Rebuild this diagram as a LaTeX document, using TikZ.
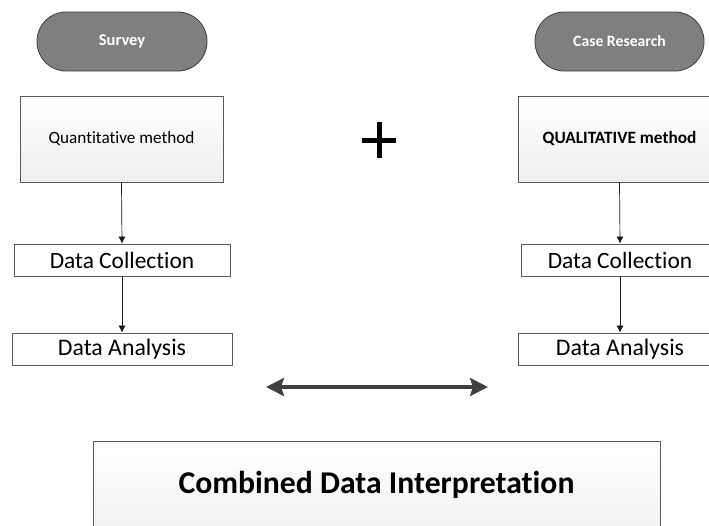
\documentclass[tikz,border=0pt]{standalone}
\usepackage{fontspec}
\setmainfont[Ligatures=NoCommon]{Carlito}
\usetikzlibrary{arrows.meta}
\definecolor{pillfill}{HTML}{7F7F7F}
\definecolor{pillborder}{HTML}{404040}
\definecolor{boxborder}{HTML}{595959}
\definecolor{arrowdark}{HTML}{404040}
\tikzset{
  pill/.style={draw=pillborder, line width=0.8pt, fill=pillfill, rounded corners=29pt,
    minimum height=59pt, inner sep=0pt, text=white, font=\fontsize{15.7}{17}\selectfont\bfseries},
  methodbox/.style={draw=boxborder, line width=0.8pt, top color=white, bottom color=gray!13,
    minimum height=86pt, inner sep=0pt, font=\fontsize{17.2}{19}\selectfont},
  databox/.style={draw=boxborder, line width=0.8pt, fill=white, minimum height=32pt,
    inner sep=0pt, font=\fontsize{23.4}{25}\selectfont},
  flowarrow/.style={draw=black!90, line width=0.7pt, -{Latex[length=7pt,width=7pt]}},
  bigarrow/.style={draw=arrowdark, line width=3.5pt,
    {Stealth[length=18pt,width=18pt,inset=3pt]}-{Stealth[length=18pt,width=18pt,inset=3pt]}},
  combbox/.style={draw=boxborder, line width=1pt, top color=white, bottom color=gray!10,
    inner sep=0pt, font=\fontsize{31.7}{34}\selectfont\bfseries}
}
\begin{document}
\begin{tikzpicture}[x=1pt,y=-1pt]
\useasboundingbox (0,0) rectangle (709,525);
% left column
\node[pill, minimum width=170pt, font=\fontsize{16.5}{18}\selectfont\bfseries] (survey) at (122,41.5) {Survey};
\node[methodbox, minimum width=203pt] (quant) at (121.5,139) {Quantitative method};
\node[databox, minimum width=216pt] (dcl) at (122,260) {Data Collection};
\node[databox, minimum width=220pt, font=\fontsize{23.8}{25}\selectfont] (dal) at (122,349) {Data Analysis};
% right column
\node[pill, minimum width=169pt] (case) at (619.5,41.5) {Case Research};
\node[methodbox, minimum width=203pt, font=\fontsize{17.3}{19}\selectfont\bfseries] (qual) at (619.5,139) {QUALITATIVE method};
\node[databox, minimum width=198pt] (dcr) at (620,260) {Data Collection};
\node[databox, minimum width=204pt, font=\fontsize{23.8}{25}\selectfont] (dar) at (620,349) {Data Analysis};
% plus sign
\coordinate (pc) at (379,140);
\draw[line width=5pt, black] ([xshift=-17pt]pc) -- ([xshift=17pt]pc);
\draw[line width=5pt, black] ([yshift=-18pt]pc) -- ([yshift=18pt]pc);
% flow arrows
\draw[flowarrow] (quant.south) -- (dcl.north);
\draw[flowarrow] (dcl.south) -- (dal.north);
\draw[flowarrow] (qual.south) -- (dcr.north);
\draw[flowarrow] (dcr.south) -- (dar.north);
% double arrow
\coordinate (al) at (266,387);
\coordinate (ar) at (488,387);
\draw[bigarrow] (al) -- (ar);
% combined box
\node[combbox, minimum width=567pt, minimum height=88pt] (comb) at (376.5,485) {Combined Data Interpretation};
\end{tikzpicture}
\end{document}
